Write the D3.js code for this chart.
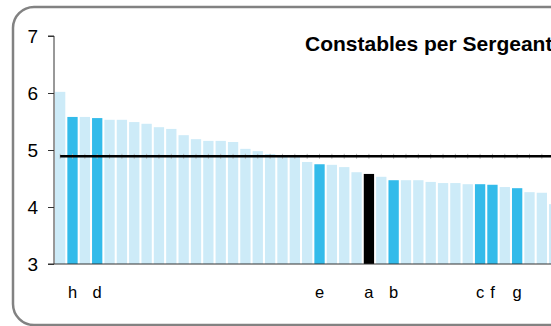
<!DOCTYPE html>
<html>
<head>
<meta charset="utf-8">
<script src="https://cdn.jsdelivr.net/npm/d3@7"></script>
<style>
html,body{margin:0;padding:0;background:#fff;overflow:hidden;}
svg{display:block;}
</style>
</head>
<body>
<svg id="chart" width="551" height="326"></svg>
<script>
// Data
const forces = d3.range(43).map(i => "F" + i);
const values = [6.02,5.58,5.58,5.56,5.53,5.53,5.49,5.46,5.40,5.37,5.26,5.19,5.16,5.16,5.14,5.02,4.98,4.93,4.91,4.90,4.79,4.75,4.74,4.70,4.61,4.58,4.53,4.47,4.47,4.47,4.44,4.42,4.42,4.40,4.40,4.39,4.35,4.33,4.26,4.25,4.05,3.98,3.90];
const labels = {1:"h",3:"d",21:"e",25:"a",27:"b",34:"c",35:"f",37:"g"};
const highlighted = [1,3,21,27,34,35,37];
const ownForce = 25;
const average = 4.89;
const yTicks = [3,4,5,6,7];
const title = "Constables per Sergeant";

const svg = d3.select("#chart");
const x = d3.scaleBand().domain(forces).range([54, 54 + 43*12.35]).paddingInner(0.165).paddingOuter(0.08);
const y = d3.scaleLinear().domain([3,7]).range([264,36]);

// frame
svg.append("rect").attr("x",13).attr("y",7).attr("width",640).attr("height",318)
  .attr("rx",21).attr("ry",21).attr("fill","#fff").attr("stroke","#828282").attr("stroke-width",2.5);

// bars
svg.selectAll("rect.bar").data(values).enter().append("rect").attr("class","bar")
  .attr("x",(d,i)=>x(forces[i])).attr("width",x.bandwidth())
  .attr("y",d=>y(d)).attr("height",d=>y(3)-y(d))
  .attr("fill",(d,i)=> i===ownForce ? "#000" : (highlighted.includes(i) ? "#33BBEA" : "#CDEBF8"));

// average line markers
svg.selectAll("line.mk").data(forces).enter().append("line").attr("class","mk")
  .attr("x1",d=>x(d)+x.bandwidth()/2).attr("x2",d=>x(d)+x.bandwidth()/2)
  .attr("y1",y(average)-2.5).attr("y2",y(average)+2.5)
  .attr("stroke","#b5b5b5").attr("stroke-width",1);
// average line
svg.append("line").attr("x1",x(forces[0])+x.bandwidth()/2).attr("x2",x(forces[forces.length-1])+x.bandwidth())
  .attr("y1",y(average)).attr("y2",y(average)).attr("stroke","#000").attr("stroke-width",2.6);

// y axis
const yAxis = d3.axisLeft(y).tickValues(yTicks).tickSize(6).tickPadding(10).tickFormat(d3.format("d"));
const ga = svg.append("g").attr("transform","translate(54,0)").call(yAxis);
ga.select(".domain").attr("stroke","#333").attr("d","M-6,36H0V264H-6");
ga.selectAll(".tick line").attr("stroke","#333");
ga.selectAll(".tick text").attr("font-family","Liberation Sans, Arial, sans-serif").attr("font-size","19px").attr("fill","#000");

// x axis line
svg.append("line").attr("x1",54).attr("x2",600).attr("y1",264).attr("y2",264).attr("stroke","#333").attr("stroke-width",1);

// category letters
svg.selectAll("text.lab").data(Object.keys(labels)).enter().append("text").attr("class","lab")
  .attr("x",k=>x(forces[+k])+x.bandwidth()/2).attr("y",298)
  .attr("text-anchor","middle").attr("font-family","Liberation Sans, Arial, sans-serif")
  .attr("font-size","16.5px").attr("fill","#000").text(k=>labels[k]);

// title
svg.append("text").attr("x",305).attr("y",51).attr("font-family","Liberation Sans, Arial, sans-serif")
  .attr("font-weight","bold").attr("font-size","21px").attr("fill","#000").text(title);
</script>
</body>
</html>
